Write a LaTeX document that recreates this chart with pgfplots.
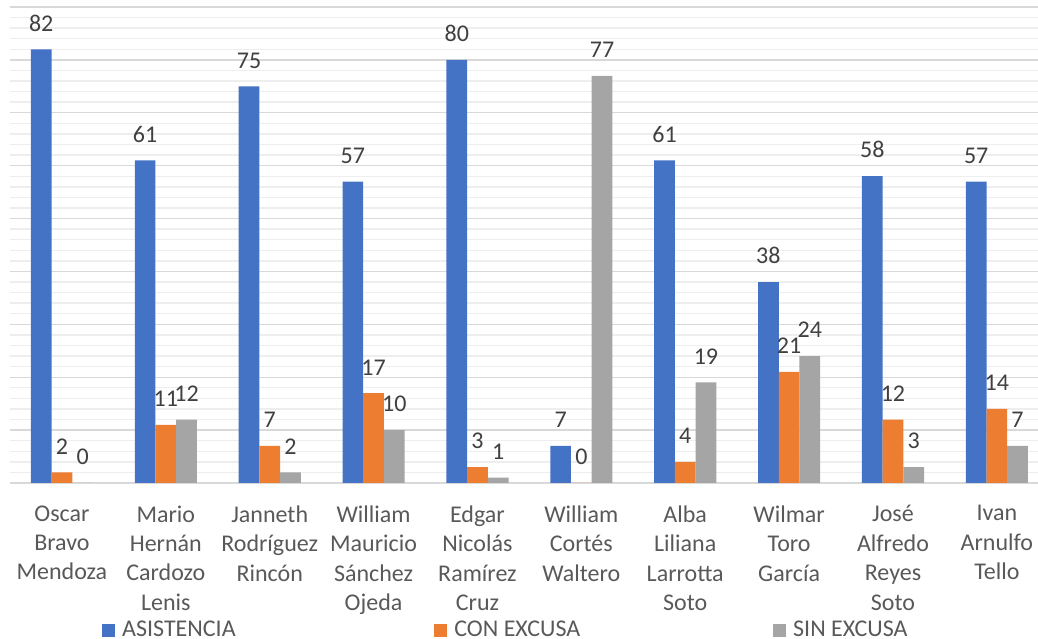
\documentclass[border=0pt]{standalone}
\usepackage{pgfplots}
\pgfplotsset{compat=1.18}
\usepackage{fontspec}
\setmainfont{Carlito}
\definecolor{cblue}{HTML}{4472C4}
\definecolor{corange}{HTML}{ED7D31}
\definecolor{cgray}{HTML}{A5A5A5}
\definecolor{labtxt}{HTML}{404040}
\definecolor{cattxt}{HTML}{595959}
\definecolor{majgrid}{HTML}{D9D9D9}
\definecolor{mingrid}{HTML}{EEEEEE}
\begin{document}
\begin{tikzpicture}
\begin{axis}[
  name=ax,
  scale only axis,
  width=514pt, height=238pt,
  xmin=-0.5, xmax=9.396,
  ymin=0, ymax=90,
  ybar=0pt,
  bar width=10.35pt,
  axis line style={draw=none},
  tick style={draw=none},
  ytick={0,10,...,90},
  minor ytick={2,4,6,8,12,14,16,18,22,24,26,28,32,34,36,38,42,44,46,48,52,54,56,58,62,64,66,68,72,74,76,78,82,84,86,88},
  yticklabels={},
  ymajorgrids, yminorgrids,
  major grid style={draw=majgrid, line width=0.7pt},
  minor grid style={draw=mingrid, line width=0.7pt},
  xtick={0,...,9},
  xticklabels={{Oscar\\Bravo\\Mendoza},{Mario\\Hernán\\Cardozo\\Lenis},{Janneth\\Rodríguez\\Rincón},{William\\Mauricio\\Sánchez\\Ojeda},{Edgar\\Nicolás\\Ramírez\\Cruz},{William\\Cortés\\Waltero},{Alba\\Liliana\\Larrotta\\Soto},{Wilmar\\Toro\\García},{José\\Alfredo\\Reyes\\Soto},{Ivan\\Arnulfo\\Tello}},
  xticklabel style={align=center, font=\fontsize{12}{14.7}\selectfont, text=cattxt, anchor=north, yshift=-3.5pt},
  nodes near coords,
  every node near coord/.append style={font=\fontsize{12}{14}\selectfont, text=labtxt, anchor=south, yshift=5.5pt},
  /pgf/number format/assume math mode=true,
  clip=false,
  legend columns=3,
  legend style={draw=none, fill=none, inner sep=0pt, outer sep=0pt, at={(0,0)}, anchor=west, xshift=46pt, yshift=-73.8pt, font=\fontsize{12}{14}\selectfont, text=cattxt, nodes={inner ysep=0.5pt}, /tikz/every even column/.append style={column sep=0pt}},
  legend image code/.code={\fill[#1, draw=none] (0pt,-3.4pt) rectangle (6.6pt,3.4pt);},
]
\addplot[fill=cblue, draw=none] coordinates {(0,82) (1,61) (2,75) (3,57) (4,80) (5,7) (6,61) (7,38) (8,58) (9,57)};
\addplot[fill=corange, draw=none] coordinates {(0,2) (1,11) (2,7) (3,17) (4,3) (5,0) (6,4) (7,21) (8,12) (9,14)};
\addplot[fill=cgray, draw=none] coordinates {(0,0) (1,12) (2,2) (3,10) (4,1) (5,77) (6,19) (7,24) (8,3) (9,7)};
\addlegendentry{\makebox[155.5pt][l]{\hspace*{1.5pt}ASISTENCIA}}
\addlegendentry{\makebox[158.8pt][l]{\hspace*{1.5pt}CON EXCUSA}}
\addlegendentry{\hspace*{1.5pt}SIN EXCUSA}
\end{axis}
\pgfresetboundingbox
\path ([shift={(-5pt,-78pt)}]ax.south west) rectangle ([shift={(0pt,3.5pt)}]ax.north east);
\end{tikzpicture}
\end{document}
